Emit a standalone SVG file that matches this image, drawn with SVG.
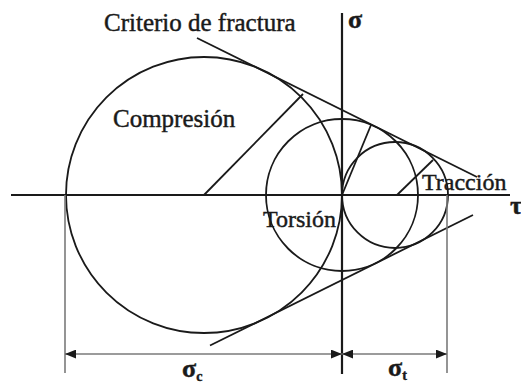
<svg xmlns="http://www.w3.org/2000/svg" width="521" height="383" viewBox="0 0 521 383">
<style>
.ln{stroke:#1a1a1a;stroke-width:1.8;fill:none}
.ax{stroke:#1a1a1a;stroke-width:2.2;fill:none}
.dim{stroke:#7a7a7a;stroke-width:1.6;fill:none}
.t{font-family:"Liberation Serif","Times New Roman",serif;fill:#1a1a1a;stroke:#1a1a1a;stroke-width:0.45}
.g{font-weight:bold}
</style>
<defs>
<marker id="ah" viewBox="0 0 10 8" refX="10" refY="4" markerWidth="11" markerHeight="9" markerUnits="userSpaceOnUse" orient="auto">
<path d="M0,0 L10,4 L0,8 Z" fill="#1a1a1a"/>
</marker>
</defs>
<g id="axes">
<line class="ax" x1="11" y1="195" x2="510" y2="195"/>
<line class="ax" x1="342" y1="13" x2="342" y2="374"/>
</g>
<g id="circle-compresion">
<circle class="ln" cx="204" cy="195" r="138"/>
<line class="ln" x1="204" y1="195" x2="303" y2="94"/>
</g>
<g id="circle-torsion">
<circle class="ln" cx="342" cy="195" r="76"/>
<line class="ln" x1="342" y1="195" x2="371" y2="125"/>
</g>
<g id="circle-traccion">
<circle class="ln" cx="395" cy="195" r="53"/>
<line class="ln" x1="397" y1="195" x2="433" y2="160"/>
</g>
<g id="criterio">
<line class="ln" x1="197" y1="38" x2="477" y2="177"/>
<line class="ln" x1="210" y1="345.5" x2="473" y2="215"/>
</g>
<g id="dimensions">
<line class="dim" x1="65" y1="195" x2="65" y2="373"/>
<line class="dim" x1="447" y1="195" x2="447" y2="373"/>
<line class="dim" x1="190" y1="354" x2="65" y2="354" marker-end="url(#ah)"/>
<line class="dim" x1="190" y1="354" x2="342" y2="354" marker-end="url(#ah)"/>
<line class="dim" x1="395" y1="354" x2="342" y2="354" marker-end="url(#ah)"/>
<line class="dim" x1="395" y1="354" x2="447" y2="354" marker-end="url(#ah)"/>
</g>
<g id="labels">
<text class="t" x="104" y="31" font-size="25">Criterio de fractura</text>
<text class="t" x="113" y="127" font-size="25">Compresión</text>
<text class="t" x="263" y="227" font-size="24">Torsión</text>
<text class="t" x="422" y="190" font-size="24">Tracción</text>
<text class="t g" x="348" y="28" font-size="26">σ</text>
<text class="t g" x="510" y="214" font-size="26">τ</text>
<text class="t g" x="182" y="377" font-size="26">σ<tspan font-size="14" dy="4">c</tspan></text>
<text class="t g" x="388" y="376" font-size="26">σ<tspan font-size="14" dy="4">t</tspan></text>
</g>
</svg>
